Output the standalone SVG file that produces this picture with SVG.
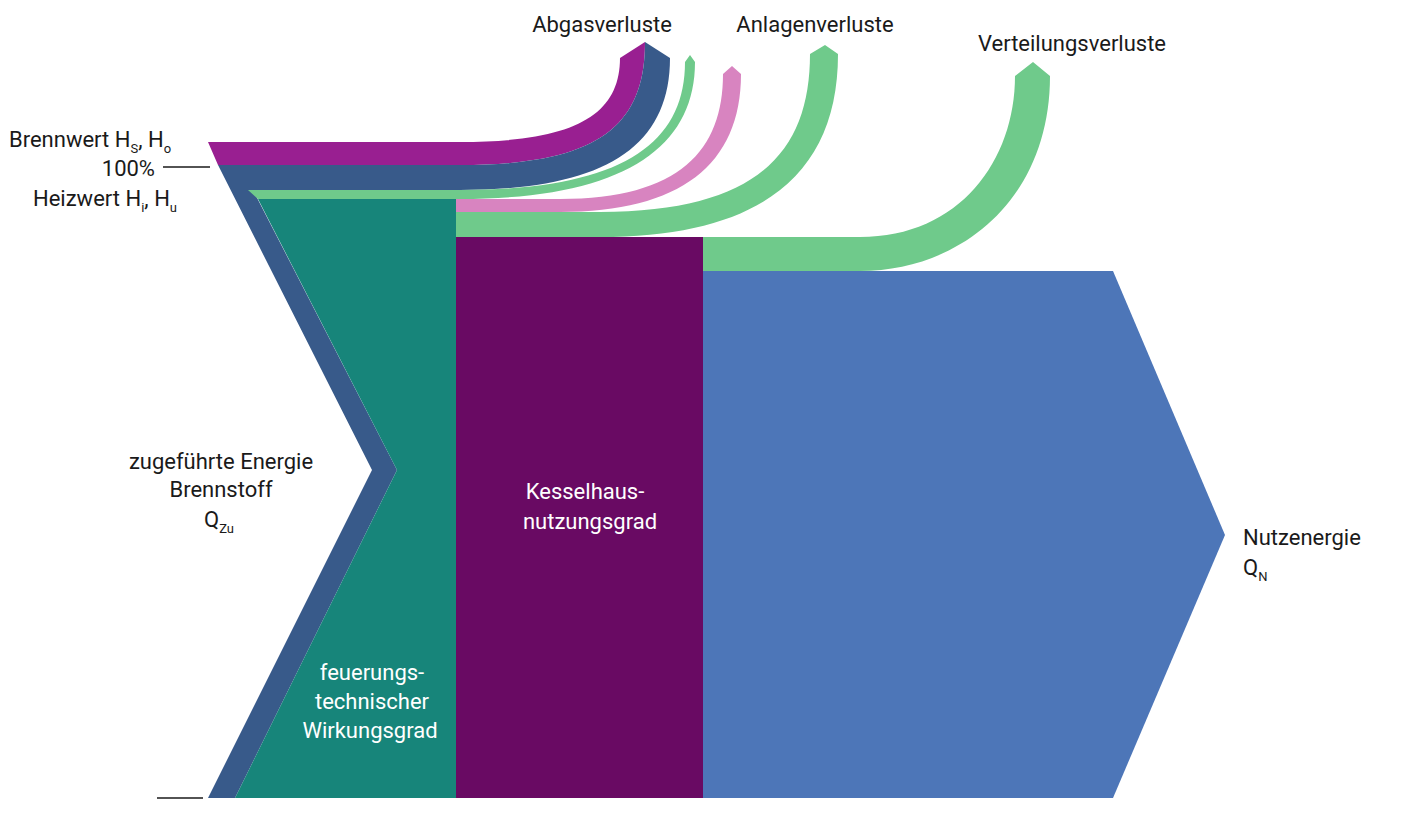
<svg xmlns="http://www.w3.org/2000/svg" width="1407" height="828" viewBox="0 0 1407 828">
<style>
text{font-family:"Roboto","Liberation Sans",sans-serif;font-size:22px;fill:#1a1a1a}
.w{fill:#fff}
.s{font-size:13px}
.ln{stroke:#1a1a1a;stroke-width:1.3}
</style>
<rect width="1407" height="828" fill="#fff"/>
<g id="flows">
<path id="abgas-h" d="M208,142 L460,142 C575,142 620,115 620,58 L645,42 C645,125 600,165 460,165 L218,165 Z" fill="#991f91"/>
<path id="abgas-i" d="M218,165 L460,165 C600,165 645,125 645,42 L670,58 C670,150 600,190 460,190 L253,190 L397,470 L235,798 L208,798 L372,470 Z" fill="#385a8a"/>
<path id="anlage1" d="M248,190 L460,190 C620,190 685,145 685,62 L690,55 L695,62 C695,150 620,199 460,199 L258,199 Z" fill="#6fca8b"/>
<path id="anlage2" d="M456,199 L560,199 C680,199 723,150 723,74 L732,66 L741,74 C741,165 680,212 560,212 L456,212 Z" fill="#d884c0"/>
<path id="anlage3" d="M456,212 L600,212 C760,212 810,150 810,54 L825,45 L838,54 C838,175 760,237 600,237 L456,237 Z" fill="#6fca8b"/>
<path id="verteil" d="M703,237 L860,237 C960,237 1015,160 1015,76 L1033,62 L1050,76 C1050,200 960,271 860,271 L703,271 Z" fill="#6fca8b"/>
</g>
<g id="feuer"><path d="M258,199 L456,199 L456,798 L235,798 L397,470 Z" fill="#17857a"/>
<text class="w" x="372" y="680" text-anchor="middle">feuerungs-</text>
<text class="w" x="372" y="709" text-anchor="middle">technischer</text>
<text class="w" x="370" y="738" text-anchor="middle">Wirkungsgrad</text></g>
<g id="kessel"><rect x="456" y="237" width="247" height="561" fill="#690a63"/>
<text class="w" x="585" y="499" text-anchor="middle">Kesselhaus-</text>
<text class="w" x="590" y="529" text-anchor="middle">nutzungsgrad</text></g>
<g id="nutz"><path d="M703,271 L1113,271 L1225,535 L1113,798 L703,798 Z" fill="#4d76b8"/>
<text x="1243" y="545">Nutzenergie</text>
<text x="1243" y="575">Q<tspan class="s" dy="6">N</tspan></text></g>
<g id="labels">
<text x="602" y="32" text-anchor="middle">Abgasverluste</text>
<text x="815" y="32" text-anchor="middle">Anlagenverluste</text>
<text x="1072" y="51" text-anchor="middle">Verteilungsverluste</text>
<text x="9" y="147">Brennwert H<tspan class="s" dy="6">S</tspan><tspan dy="-6">, H</tspan><tspan class="s" dy="6">o</tspan></text>
<text x="155" y="176" text-anchor="end">100%</text>
<text x="33" y="206">Heizwert H<tspan class="s" dy="6">i</tspan><tspan dy="-6">, H</tspan><tspan class="s" dy="6">u</tspan></text>
<text x="221" y="469" text-anchor="middle">zugeführte Energie</text>
<text x="221" y="497" text-anchor="middle">Brennstoff</text>
<text x="204" y="527">Q<tspan class="s" dy="6">Zu</tspan></text>
<line class="ln" x1="163" y1="167" x2="210" y2="167"/>
<line class="ln" x1="157" y1="798" x2="203" y2="798"/>
</g>
</svg>
